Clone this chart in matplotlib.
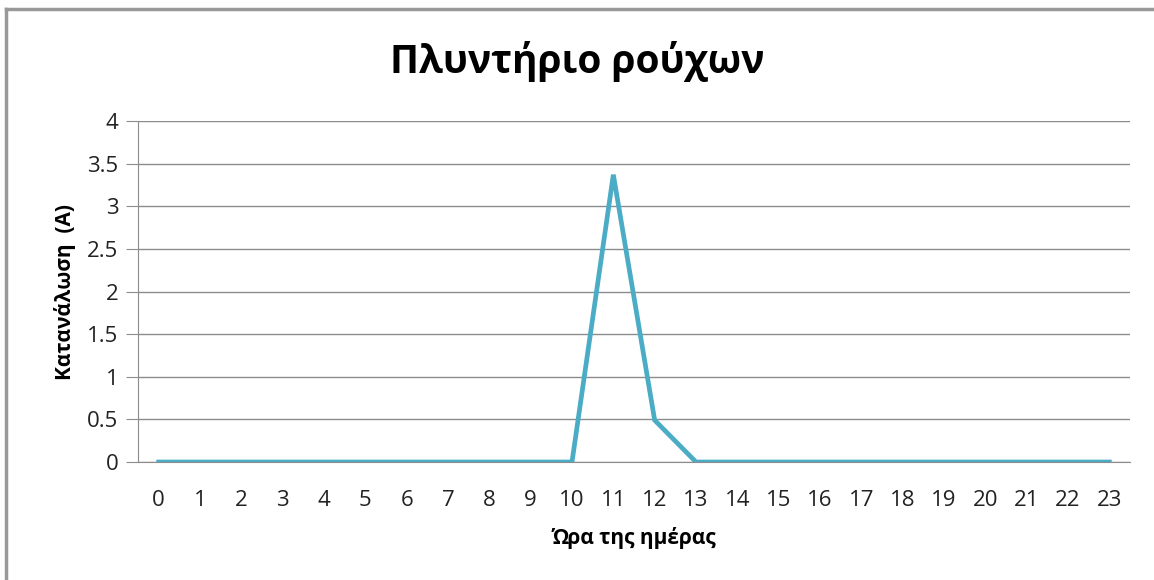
import matplotlib.pyplot as plt
from matplotlib.lines import Line2D

hours = list(range(24))
current = [0, 0, 0, 0, 0, 0, 0, 0, 0, 0, 0, 3.37, 0.49, 0,
           0, 0, 0, 0, 0, 0, 0, 0, 0, 0]
y_ticks = [0, 0.5, 1, 1.5, 2, 2.5, 3, 3.5, 4]
y_tick_labels = ["0", "0.5", "1", "1.5", "2", "2.5", "3", "3.5", "4"]

plt.rcParams["font.family"] = ["Open Sans", "DejaVu Sans"]

fig = plt.figure(figsize=(11.54, 5.80), dpi=100)
W, H = 1154, 580
ax = fig.add_axes([138 / W, 1 - 462 / H, (1130 - 138) / W, (462 - 121) / H])

ax.plot(hours, current, color="#4BACC6", linewidth=3.4, solid_joinstyle="miter")

ax.set_xlim(-0.5, 23.5)
ax.set_ylim(0, 4)
ax.set_yticks(y_ticks)
ax.set_yticklabels(y_tick_labels)
ax.set_xticks(hours)
ax.set_xticklabels([str(h) for h in hours])

ax.grid(axis="y", color="#8c8c8c", linewidth=1)
ax.set_axisbelow(True)
for side in ("top", "right"):
    ax.spines[side].set_visible(False)
ax.spines["left"].set_color("#8c8c8c")
ax.spines["bottom"].set_color("#8c8c8c")
ax.tick_params(axis="y", length=9, color="#8c8c8c", labelsize=16, pad=5,
               labelcolor="#222222")
ax.tick_params(axis="x", length=0, labelsize=16, pad=20, labelcolor="#222222")

ax.set_ylabel("Κατανάλωση  (A)", fontsize=15, fontweight="bold", labelpad=8)
ax.set_xlabel("Ώρα της ημέρας", fontsize=15, fontweight="bold", labelpad=12)
fig.text(0.5, 1 - 62 / H, "Πλυντήριο ρούχων", ha="center", va="center",
         fontsize=28, fontweight="bold")

# chart frame (left and top edges visible in the screenshot)
fig.add_artist(Line2D([6 / W, 6 / W], [0, 1 - 9 / H], color="#999999",
                      linewidth=2.5, transform=fig.transFigure))
fig.add_artist(Line2D([6 / W, 1], [1 - 9 / H, 1 - 9 / H], color="#999999",
                      linewidth=2.5, transform=fig.transFigure))

plt.savefig("out.png", dpi=100)
plt.close(fig)
